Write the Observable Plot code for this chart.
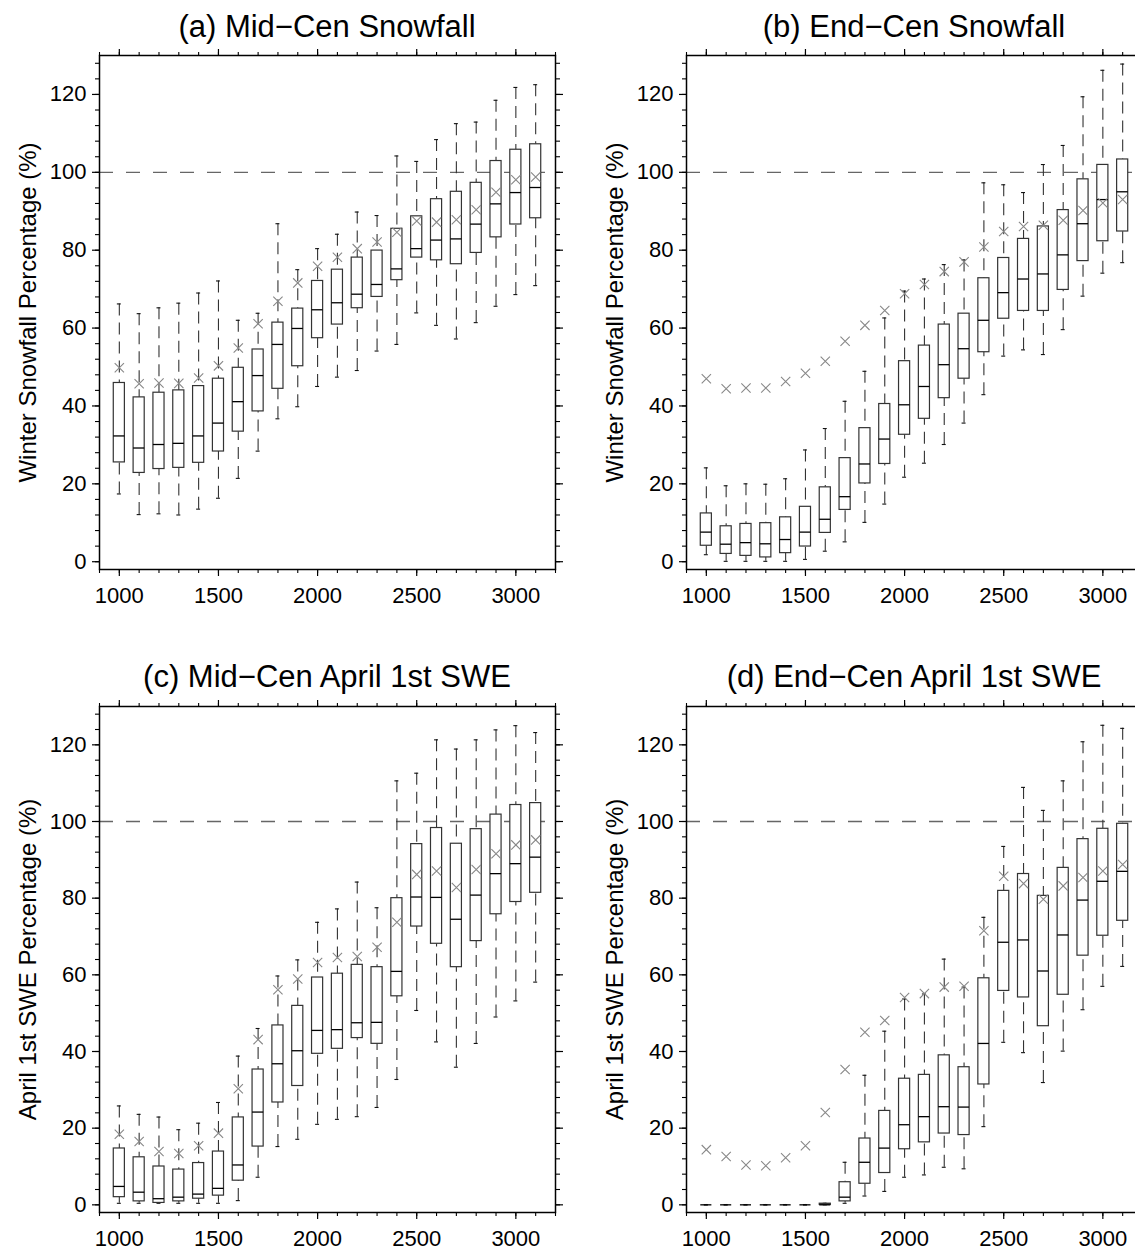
<!DOCTYPE html>
<html>
<head>
<meta charset="utf-8">
<script src="https://cdn.jsdelivr.net/npm/d3@7"></script>
<script src="https://cdn.jsdelivr.net/npm/@observablehq/plot@0.6"></script>
<style>
html, body { margin: 0; padding: 0; background: #fff; overflow: hidden; }
#root { position: relative; width: 1135px; height: 1255px; overflow: hidden; font-family: "Liberation Sans", Arial, sans-serif; }
.title { position: absolute; transform: translate(-50%, -50%); white-space: nowrap; font-size: 31px; color: #000; }
.panel { position: absolute; }
</style>
</head>
<body>
<div id="root"></div>
<script>
// Elevation bins (m)
const elev = [1000,1100,1200,1300,1400,1500,1600,1700,1800,1900,2000,2100,2200,2300,2400,2500,2600,2700,2800,2900,3000,3100];

// (a) Mid-Cen Snowfall
const aHi   = [66.2,63.7,65.2,66.4,69.0,72.1,62.0,63.8,86.8,75.0,80.4,84.1,89.8,88.9,104.2,102.8,108.4,112.5,112.9,118.5,121.8,122.5];
const aQ3   = [45.9,42.2,43.4,44.0,45.1,47.0,49.8,54.5,61.4,65.0,72.1,75.0,78.1,79.9,85.5,88.7,93.1,95.0,97.3,102.9,105.8,107.2];
const aMed  = [32.3,29.2,30.1,30.4,32.3,35.6,41.1,47.8,55.8,59.9,64.7,66.5,68.7,71.2,75.2,80.4,82.6,82.9,86.7,91.9,94.8,96.1];
const aQ1   = [25.5,22.8,23.8,24.1,25.4,28.3,33.4,38.6,44.4,50.2,57.4,60.9,65.1,68.0,72.3,78.1,77.4,76.4,79.3,83.3,86.6,88.2];
const aLo   = [17.4,12.1,12.3,12.0,13.5,16.3,21.4,28.4,36.7,39.8,45.0,47.4,49.1,54.1,55.8,63.9,60.7,57.2,61.4,65.6,68.6,70.9];
const aMean = [49.8,45.7,45.9,45.8,47.2,50.3,54.9,61.1,66.9,71.6,75.9,78.2,80.4,82.1,84.6,87.5,87.2,87.8,90.4,94.9,98.1,98.8];

// (b) End-Cen Snowfall
const bHi   = [24.1,19.5,20.0,19.9,21.3,28.7,34.2,41.2,48.9,62.6,69.5,72.6,76.3,77.5,97.3,96.8,94.8,102.0,106.9,119.4,126.2,127.8];
const bQ3   = [12.4,9.1,9.7,9.9,11.4,14.1,19.1,26.6,34.3,40.5,51.5,55.5,60.9,63.7,72.8,78.0,82.9,86.1,90.3,98.2,101.9,103.3];
const bMed  = [7.6,4.5,4.9,4.6,5.7,7.6,10.9,16.7,25.1,31.5,40.3,45.0,50.6,54.7,62.0,69.1,72.6,73.9,78.8,86.8,93.0,95.0];
const bQ1   = [4.1,2.0,1.5,1.1,2.2,3.9,7.4,13.3,20.1,25.1,32.6,36.7,42.0,47.0,53.8,62.4,64.4,64.4,69.8,77.2,82.3,84.8];
const bLo   = [1.8,0.1,0.1,0.1,0.1,0.6,2.7,5.1,10.1,14.8,21.7,25.3,30.1,35.6,42.9,52.8,54.4,53.2,59.6,68.2,74.1,76.8];
const bMean = [47.0,44.4,44.6,44.6,46.3,48.4,51.5,56.6,60.7,64.5,68.8,71.2,74.5,77.0,80.8,84.8,86.1,86.4,87.7,90.2,92.1,93.0];

// (c) Mid-Cen April 1st SWE
const cHi   = [25.8,23.6,22.9,19.6,21.3,26.7,38.8,46.0,59.7,63.9,73.7,77.2,84.2,77.5,110.6,112.6,121.3,118.9,121.3,123.9,125.0,123.2];
const cQ3   = [14.7,12.4,10.0,9.2,10.9,13.9,22.8,35.3,46.8,51.9,59.3,60.3,62.6,62.0,80.0,94.1,98.3,94.2,98.0,101.8,104.3,104.8];
const cMed  = [4.8,3.3,1.6,2.0,2.8,4.3,10.4,24.2,36.8,40.2,45.5,45.7,47.5,47.6,60.9,80.3,80.2,74.5,80.8,86.4,89.0,90.7];
const cQ1   = [2.0,0.9,0.5,0.9,1.6,2.4,6.3,15.2,26.7,31.0,39.4,40.7,43.5,42.0,54.4,72.6,68.1,62.0,68.8,75.8,79.0,81.4];
const cLo   = [0.4,0.4,0.4,0.4,0.4,0.4,1.1,7.2,15.2,17.1,21.0,22.3,23.0,25.4,32.7,50.7,42.5,35.9,42.1,49.0,53.2,58.1];
const cMean = [18.4,16.5,13.9,13.4,15.4,18.7,30.3,43.1,56.1,58.9,63.2,64.5,64.8,67.2,73.7,86.2,87.1,82.8,87.5,91.6,93.9,95.2];

// (d) End-Cen April 1st SWE
const dHi   = [0,0,0,0,0,0,0.4,11.1,33.8,45.3,53.7,55.0,64.1,56.8,75.0,93.5,108.9,102.9,110.6,120.8,125.1,124.3];
const dQ3   = [0,0,0,0,0,0,0.3,5.9,17.3,24.5,32.9,33.9,39.0,35.9,59.1,81.9,86.3,80.6,87.9,95.4,98.1,99.4];
const dMed  = [0,0,0,0,0,0,0,2.0,11.1,14.8,20.9,23.0,25.6,25.5,42.1,68.5,69.1,61.0,70.4,79.5,84.4,87.0];
const dQ1   = [0,0,0,0,0,0,0,0.9,5.5,8.3,14.5,16.3,18.6,18.2,31.4,55.8,54.1,46.6,54.8,65.0,70.2,74.1];
const dLo   = [0,0,0,0,0,0,0,0.4,2.3,3.5,7.2,7.8,9.8,9.4,20.4,42.4,39.7,31.9,40.1,50.9,57.0,62.2];
const dMean = [14.4,12.6,10.4,10.2,12.3,15.4,24.1,35.3,45.0,48.1,54.1,55.1,56.8,57.0,71.5,85.7,83.8,79.7,83.2,85.4,87.1,88.8];

// Axis ticks
const xTicks = [1000,1500,2000,2500,3000];
const yTicks = [0,20,40,60,80,100,120];
const refLine = [100];

const titles = ["(a) Mid\u2212Cen Snowfall","(b) End\u2212Cen Snowfall","(c) Mid\u2212Cen April 1st SWE","(d) End\u2212Cen April 1st SWE"];
const yLabels = ["Winter Snowfall Percentage (%)","Winter Snowfall Percentage (%)","April 1st SWE Percentage (%)","April 1st SWE Percentage (%)"];

const xMinor = d3.range(900, 3201, 100);
const yMinor = d3.range(0, 131, 4);

function table(hi,q3,med,q1,lo,mean){
  return elev.map((e,i)=>({elev:e, hi:hi[i], q3:q3[i], med:med[i], q1:q1[i], lo:lo[i], mean:mean[i]}));
}

const panels = [
  {data: table(aHi,aQ3,aMed,aQ1,aLo,aMean), left: 0,   top: 39,  fh: 514, cx: 327, ty: 27},
  {data: table(bHi,bQ3,bMed,bQ1,bLo,bMean), left: 587, top: 39,  fh: 514, cx: 914, ty: 27},
  {data: table(cHi,cQ3,cMed,cQ1,cLo,cMean), left: 0,   top: 690, fh: 506, cx: 327, ty: 677},
  {data: table(dHi,dQ3,dMed,dQ1,dLo,dMean), left: 587, top: 690, fh: 506, cx: 914, ty: 677}
];

const root = document.getElementById("root");
const FONT = "Liberation Sans, Arial, sans-serif";
const halfBox = 28, halfCap = 10;

panels.forEach((p, k) => {
  const mT = 16, mB = 52, mL = 99, mR = 12;
  const chart = Plot.plot({
    width: mL + 456 + mR,
    height: mT + p.fh + mB,
    marginLeft: mL, marginRight: mR, marginTop: mT, marginBottom: mB,
    style: {fontFamily: FONT, background: "white", overflow: "visible"},
    x: {domain: [900, 3200]},
    y: {domain: [-2, 130]},
    marks: [
      Plot.ruleY(refLine, {stroke: "#666", strokeWidth: 1.3, strokeDasharray: "14,13"}),
      // whiskers
      Plot.ruleX(p.data, {x: "elev", y1: "hi", y2: "q3", stroke: "#333", strokeWidth: 1.1, strokeDasharray: "12,7"}),
      Plot.ruleX(p.data, {x: "elev", y1: "lo", y2: "q1", stroke: "#333", strokeWidth: 1.1, strokeDasharray: "12,7"}),
      // caps
      Plot.ruleY(p.data, {y: "hi", x1: d => d.elev - halfCap, x2: d => d.elev + halfCap, stroke: "#111", strokeWidth: 1.1}),
      Plot.ruleY(p.data, {y: "lo", x1: d => d.elev - halfCap, x2: d => d.elev + halfCap, stroke: "#111", strokeWidth: 1.1}),
      // boxes
      Plot.rect(p.data, {x1: d => d.elev - halfBox, x2: d => d.elev + halfBox, y1: "q1", y2: "q3", fill: "white", stroke: "#333", strokeWidth: 1.2}),
      // medians
      Plot.ruleY(p.data, {y: "med", x1: d => d.elev - halfBox, x2: d => d.elev + halfBox, stroke: "#000", strokeWidth: 1.3}),
      // means
      Plot.dot(p.data, {x: "elev", y: "mean", symbol: "times", r: 4.3, stroke: "#888", strokeWidth: 1.1}),
      // axes
      Plot.axisX({ticks: xTicks, tickSize: 7, tickPadding: 11, tickFormat: "d", fontSize: 22, label: null, strokeWidth: 1.2}),
      Plot.axisX({ticks: xMinor, tickSize: 4, text: null, label: null, strokeWidth: 1.1}),
      Plot.axisX({anchor: "top", ticks: xTicks, tickSize: 7, text: null, label: null, strokeWidth: 1.2}),
      Plot.axisX({anchor: "top", ticks: xMinor, tickSize: 4, text: null, label: null, strokeWidth: 1.1}),
      Plot.axisY({ticks: yTicks, tickSize: 7, tickPadding: 6, tickFormat: "d", fontSize: 22, label: null, strokeWidth: 1.2}),
      Plot.axisY({ticks: yMinor, tickSize: 4, text: null, label: null, strokeWidth: 1.1}),
      Plot.axisY({anchor: "right", ticks: yTicks, tickSize: 7, text: null, label: null, strokeWidth: 1.2}),
      Plot.axisY({anchor: "right", ticks: yMinor, tickSize: 4, text: null, label: null, strokeWidth: 1.1}),
      Plot.text([yLabels[k]], {frameAnchor: "left", textAnchor: "middle", rotate: -90, dx: -71, fontSize: 24, fill: "black"}),
      Plot.frame({stroke: "black", strokeWidth: 1.5})
    ]
  });
  chart.classList.add("panel");
  chart.style.left = p.left + "px";
  chart.style.top = p.top + "px";
  root.appendChild(chart);

  const t = document.createElement("div");
  t.className = "title";
  t.textContent = titles[k];
  t.style.left = p.cx + "px";
  t.style.top = p.ty + "px";
  root.appendChild(t);
});
</script>
</body>
</html>
